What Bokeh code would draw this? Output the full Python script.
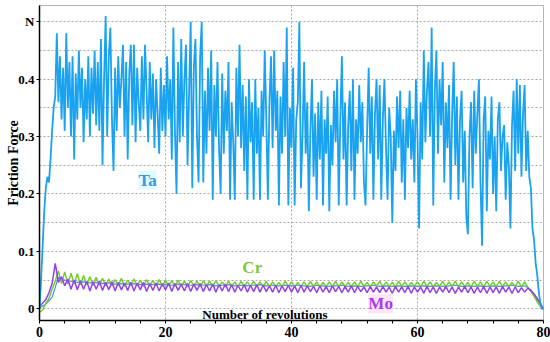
from bokeh.plotting import figure
from bokeh.models import Range1d, FixedTicker, Label, Span
from bokeh.embed import file_html
from bokeh.resources import INLINE

# Friction force (N) vs number of revolutions; Ta sampled every 0.25 rev
ta = [0.00, 0.05, 0.11, 0.17, 0.21, 0.23, 0.22, 0.26, 0.31, 0.35, 0.37, 0.48,
      0.36, 0.44, 0.33, 0.42, 0.31, 0.48, 0.35, 0.43, 0.30, 0.44, 0.26, 0.41,
      0.33, 0.45, 0.35, 0.42, 0.29, 0.40, 0.33, 0.44, 0.30, 0.42, 0.34, 0.45,
      0.32, 0.43, 0.31, 0.47, 0.25, 0.40, 0.51, 0.30, 0.44, 0.49, 0.33, 0.24,
      0.42, 0.31, 0.44, 0.35, 0.40, 0.46, 0.30, 0.43, 0.26, 0.41, 0.46, 0.32,
      0.46, 0.29, 0.42, 0.36, 0.31, 0.44, 0.33, 0.46, 0.38, 0.29, 0.43, 0.33,
      0.41, 0.28, 0.40, 0.34, 0.27, 0.42, 0.31, 0.39, 0.30, 0.44, 0.33, 0.40,
      0.26, 0.49, 0.31, 0.20, 0.43, 0.29, 0.47, 0.30, 0.40, 0.46, 0.25, 0.38,
      0.50, 0.21, 0.42, 0.47, 0.30, 0.22, 0.44, 0.50, 0.22, 0.38, 0.27, 0.42,
      0.31, 0.45, 0.19, 0.39, 0.30, 0.43, 0.28, 0.20, 0.41, 0.27, 0.38, 0.31,
      0.43, 0.19, 0.36, 0.29, 0.19, 0.42, 0.30, 0.46, 0.28, 0.39, 0.24, 0.37,
      0.19, 0.40, 0.29, 0.36, 0.19, 0.40, 0.27, 0.35, 0.19, 0.38, 0.30, 0.45,
      0.33, 0.19, 0.36, 0.44, 0.28, 0.45, 0.31, 0.38, 0.18, 0.37, 0.27, 0.43,
      0.30, 0.49, 0.18, 0.35, 0.28, 0.42, 0.18, 0.33, 0.36, 0.50, 0.21, 0.30,
      0.43, 0.27, 0.36, 0.17, 0.31, 0.40, 0.23, 0.34, 0.19, 0.36, 0.26, 0.38,
      0.18, 0.33, 0.27, 0.37, 0.17, 0.32, 0.25, 0.38, 0.29, 0.40, 0.18, 0.33,
      0.44, 0.26, 0.36, 0.18, 0.32, 0.38, 0.24, 0.40, 0.19, 0.33, 0.27, 0.39,
      0.29, 0.36, 0.22, 0.18, 0.31, 0.42, 0.27, 0.37, 0.19, 0.34, 0.40, 0.26,
      0.39, 0.19, 0.33, 0.40, 0.28, 0.19, 0.35, 0.30, 0.15, 0.31, 0.24, 0.37,
      0.28, 0.38, 0.22, 0.33, 0.19, 0.35, 0.28, 0.38, 0.26, 0.33, 0.22, 0.40,
      0.30, 0.14, 0.36, 0.26, 0.45, 0.29, 0.38, 0.43, 0.30, 0.49, 0.18, 0.38,
      0.45, 0.27, 0.40, 0.32, 0.43, 0.22, 0.36, 0.28, 0.39, 0.19, 0.34, 0.43,
      0.25, 0.37, 0.19, 0.33, 0.38, 0.22, 0.31, 0.16, 0.13, 0.30, 0.36, 0.21,
      0.38, 0.27, 0.34, 0.40, 0.22, 0.11, 0.33, 0.37, 0.17, 0.31, 0.26, 0.37,
      0.20, 0.30, 0.17, 0.33, 0.36, 0.24, 0.30, 0.32, 0.19, 0.29, 0.25, 0.14,
      0.32, 0.38, 0.24, 0.40, 0.27, 0.39, 0.23, 0.34, 0.39, 0.24, 0.31, 0.23,
      0.21, 0.14, 0.12, 0.08, 0.06, 0.03, 0.01, 0.00, 0.00]

# Cr and Mo sampled every 0.5 rev
cr = [-0.006, -0.002, 0.010, 0.018, 0.034, 0.048, 0.066, 0.044, 0.064, 0.043, 0.062, 0.043,
      0.061, 0.042, 0.058, 0.042, 0.056, 0.041, 0.055, 0.041, 0.053, 0.040, 0.052, 0.040,
      0.051, 0.040, 0.053, 0.039, 0.050, 0.041, 0.052, 0.040, 0.050, 0.039, 0.051, 0.040,
      0.049, 0.040, 0.051, 0.039, 0.050, 0.040, 0.049, 0.039, 0.050, 0.040, 0.048, 0.039,
      0.049, 0.040, 0.048, 0.038, 0.049, 0.040, 0.048, 0.039, 0.049, 0.039, 0.047, 0.038,
      0.048, 0.039, 0.047, 0.038, 0.048, 0.039, 0.047, 0.039, 0.048, 0.038, 0.047, 0.039,
      0.048, 0.038, 0.047, 0.039, 0.046, 0.038, 0.048, 0.039, 0.047, 0.038, 0.046, 0.039,
      0.047, 0.038, 0.048, 0.039, 0.047, 0.038, 0.046, 0.038, 0.047, 0.039, 0.048, 0.038,
      0.047, 0.039, 0.046, 0.038, 0.047, 0.038, 0.048, 0.039, 0.046, 0.038, 0.047, 0.039,
      0.048, 0.038, 0.047, 0.039, 0.046, 0.038, 0.048, 0.039, 0.047, 0.038, 0.046, 0.039,
      0.047, 0.038, 0.048, 0.039, 0.047, 0.038, 0.046, 0.039, 0.048, 0.038, 0.047, 0.039,
      0.048, 0.038, 0.047, 0.039, 0.046, 0.038, 0.048, 0.039, 0.047, 0.038, 0.048, 0.039,
      0.047, 0.038, 0.048, 0.039, 0.047, 0.038, 0.046, 0.039, 0.048, 0.038, 0.047, 0.038,
      0.030, 0.022, 0.012, 0.004, 0.000]

mo = [0.004, 0.010, 0.016, 0.028, 0.044, 0.079, 0.046, 0.056, 0.040, 0.052, 0.034, 0.050,
      0.033, 0.049, 0.034, 0.048, 0.031, 0.047, 0.034, 0.048, 0.032, 0.046, 0.033, 0.047,
      0.031, 0.046, 0.033, 0.045, 0.032, 0.046, 0.031, 0.045, 0.033, 0.046, 0.030, 0.044,
      0.032, 0.045, 0.031, 0.044, 0.033, 0.045, 0.030, 0.044, 0.032, 0.043, 0.031, 0.044,
      0.030, 0.043, 0.032, 0.044, 0.030, 0.042, 0.031, 0.043, 0.029, 0.042, 0.031, 0.043,
      0.030, 0.042, 0.029, 0.041, 0.031, 0.042, 0.029, 0.041, 0.030, 0.042, 0.029, 0.041,
      0.030, 0.040, 0.029, 0.041, 0.028, 0.040, 0.030, 0.041, 0.029, 0.040, 0.028, 0.041,
      0.029, 0.040, 0.030, 0.039, 0.028, 0.040, 0.029, 0.039, 0.028, 0.040, 0.030, 0.039,
      0.028, 0.039, 0.029, 0.040, 0.028, 0.039, 0.030, 0.038, 0.028, 0.039, 0.029, 0.038,
      0.028, 0.039, 0.029, 0.038, 0.027, 0.039, 0.029, 0.038, 0.028, 0.039, 0.027, 0.038,
      0.029, 0.038, 0.027, 0.039, 0.028, 0.038, 0.027, 0.038, 0.029, 0.039, 0.028, 0.038,
      0.027, 0.038, 0.029, 0.039, 0.028, 0.038, 0.027, 0.038, 0.028, 0.039, 0.027, 0.038,
      0.028, 0.038, 0.027, 0.039, 0.029, 0.038, 0.027, 0.038, 0.028, 0.037, 0.029, 0.036,
      0.032, 0.026, 0.018, 0.010, 0.000]

# unlabeled middle trace, sampled every 1 rev
mid = [0.002, 0.008, 0.020, 0.055, 0.050, 0.048, 0.046, 0.047, 0.045, 0.046, 0.044, 0.045, 0.043, 0.044, 0.043, 0.044, 0.042, 0.043, 0.042, 0.043,
       0.042, 0.041, 0.043, 0.042, 0.041, 0.042, 0.041, 0.042, 0.040, 0.041, 0.042, 0.040, 0.041, 0.040, 0.041, 0.042, 0.040, 0.041, 0.040, 0.041,
       0.040, 0.041, 0.040, 0.039, 0.041, 0.040, 0.039, 0.040, 0.041, 0.039, 0.040, 0.039, 0.040, 0.041, 0.039, 0.040, 0.039, 0.040, 0.039, 0.040,
       0.039, 0.040, 0.039, 0.040, 0.039, 0.040, 0.041, 0.039, 0.040, 0.039, 0.040, 0.039, 0.040, 0.039, 0.040, 0.041, 0.039, 0.040, 0.033, 0.015,
       0.000]

x_ta = [i * 0.25 for i in range(len(ta))]
x_half = [i * 0.5 for i in range(len(cr))]
x_one = [float(i) for i in range(len(mid))]

x_major = [0, 20, 40, 60, 80]
x_minor = [v for v in range(0, 81, 4) if v % 20 != 0]
x_gridlines = [20, 40, 60]
y_major = [0, 0.1, 0.2, 0.3, 0.4, 0.5]
y_minor = [0.05, 0.15, 0.25, 0.35, 0.45]
y_labels = {0: "0", 0.1: "0.1", 0.2: "0.2", 0.3: "0.3", 0.4: "0.4", 0.5: "N"}

SERIF = "Liberation Serif"
GRID = "#a8a8a8"

p = figure(width=550, height=342, output_backend="svg", toolbar_location=None,
           x_range=Range1d(0, 80), y_range=Range1d(-0.0204, 0.5284),
           min_border_left=39, min_border_right=7, min_border_top=5, min_border_bottom=22,
           background_fill_color="white", border_fill_color="white")
p.outline_line_color = "#b5b5b5"

# grids: horizontal every 0.05, vertical only at 20/40/60
p.xgrid.visible = False
p.ygrid.ticker = FixedTicker(ticks=y_major, minor_ticks=y_minor)
p.ygrid.grid_line_color = GRID
p.ygrid.grid_line_dash = "2 2"
p.ygrid.minor_grid_line_color = GRID
p.ygrid.minor_grid_line_dash = "2 2"
for gx in x_gridlines:
    p.add_layout(Span(location=gx, dimension="height", line_color=GRID,
                      line_dash="2 2", line_width=1, level="underlay"))

p.line(x_one, mid, line_color="#4a8fe8", line_width=1.2)
p.line(x_half, cr, line_color="#74cc2c", line_width=1.5)
p.line(x_half, mo, line_color="#9540ec", line_width=1.5)
p.line(x_ta, ta, line_color="#18a2ef", line_width=1.8)

# axes
p.xaxis.ticker = FixedTicker(ticks=x_major, minor_ticks=x_minor)
p.yaxis.ticker = FixedTicker(ticks=y_major, minor_ticks=y_minor)
p.yaxis.major_label_overrides = y_labels
p.xaxis.major_label_overrides = {v: str(v) for v in x_major}
for ax in (p.xaxis[0], p.yaxis[0]):
    ax.axis_line_color = "black"
    ax.axis_line_width = 1.5
    ax.major_tick_line_color = "black"
    ax.minor_tick_line_color = "black"
    ax.major_tick_in = 0
    ax.major_tick_out = 3
    ax.minor_tick_in = 0
    ax.minor_tick_out = 3
    ax.major_label_text_font = SERIF
    ax.major_label_text_font_style = "bold"
    ax.major_label_text_color = "black"
    ax.major_label_standoff = 3
p.xaxis.major_label_text_font_size = "14px"
p.yaxis.major_label_text_font_size = "13px"
p.yaxis.minor_tick_out = 0
p.yaxis.major_label_standoff = 2
p.yaxis.axis_label = "Friction Force"
p.yaxis.axis_label_text_font = SERIF
p.yaxis.axis_label_text_font_style = "bold"
p.yaxis.axis_label_text_font_size = "14px"
p.yaxis.axis_label_text_color = "black"
p.yaxis.axis_label_standoff = -6

# annotations
p.add_layout(Label(x=35.8, y=-0.010, text="Number of revolutions", text_align="center",
                   text_baseline="alphabetic", text_font=SERIF, text_font_style="bold",
                   text_font_size="13px", text_color="black"))
p.add_layout(Label(x=15.7, y=0.224, text="Ta", text_baseline="alphabetic",
                   text_font=SERIF, text_font_style="bold", text_font_size="17px",
                   text_color="#3f94e4", background_fill_color="#e0fbff"))
p.add_layout(Label(x=32.2, y=0.072, text="Cr", text_baseline="alphabetic",
                   text_font=SERIF, text_font_style="bold", text_font_size="17px",
                   text_color="#7cc83a"))
p.add_layout(Label(x=52.2, y=0.009, text="Mo", text_baseline="alphabetic",
                   text_font=SERIF, text_font_style="bold", text_font_size="17px",
                   text_color="#a63ce8", background_fill_color="#ffe3f7"))

open("out.html", "w").write(file_html(p, INLINE))
